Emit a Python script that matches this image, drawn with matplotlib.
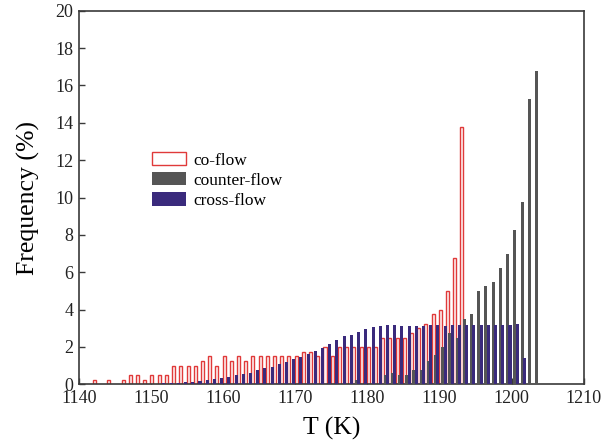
import matplotlib
matplotlib.use("Agg")
import matplotlib.pyplot as plt
import numpy as np

# ---- data ----
co_T = [1142, 1144, 1146, 1147, 1148, 1149, 1150, 1151, 1152, 1153, 1154, 1155, 1156,
        1157, 1158, 1159, 1160, 1161, 1162, 1163, 1164, 1165, 1166, 1167, 1168, 1169,
        1170, 1171, 1172, 1173, 1174, 1175, 1176, 1177, 1178, 1179, 1180, 1181, 1182,
        1183, 1184, 1185, 1186, 1187, 1188, 1189, 1190, 1191, 1192, 1193]
co_freq = [0.25, 0.25, 0.25, 0.5, 0.5, 0.25, 0.5, 0.5, 0.5, 1.0, 1.0, 1.0, 1.0,
           1.25, 1.5, 1.0, 1.5, 1.25, 1.5, 1.25, 1.5, 1.5, 1.5, 1.5, 1.5, 1.5,
           1.5, 1.75, 1.75, 1.5, 2.0, 1.5, 2.0, 2.0, 2.0, 2.0, 2.0, 2.0, 2.5,
           2.5, 2.5, 2.5, 2.75, 3.0, 3.25, 3.75, 4.0, 5.0, 6.75, 13.75]

counter_T = [1178, 1182, 1183, 1184, 1185, 1186, 1187, 1188, 1189, 1190, 1191, 1192,
             1193, 1194, 1195, 1196, 1197, 1198, 1199, 1200, 1201, 1202, 1203]
counter_freq = [0.25, 0.5, 0.62, 0.5, 0.5, 0.75, 0.75, 1.25, 1.55, 2.0, 2.75, 2.5,
                3.5, 3.75, 5.0, 5.25, 5.5, 6.25, 7.0, 8.25, 9.75, 15.25, 16.75]

cross_T = list(range(1150, 1202))
cross_freq = [0.03, 0.05, 0.06, 0.08, 0.1, 0.14, 0.2, 0.23, 0.29, 0.35, 0.41, 0.48,
              0.54, 0.62, 0.74, 0.86, 0.93, 1.07, 1.2, 1.38, 1.47, 1.63, 1.8, 1.95,
              2.15, 2.38, 2.6, 2.65, 2.8, 2.97, 3.07, 3.1, 3.15, 3.15, 3.1, 3.1, 3.1,
              3.1, 3.15, 3.2, 3.1, 3.19, 3.19, 3.19, 3.19, 3.19, 3.19, 3.19, 3.19,
              3.19, 3.22, 1.4]

labels = ["co-flow", "counter-flow", "cross-flow"]
x_ticks = [1140, 1150, 1160, 1170, 1180, 1190, 1200, 1210]
y_ticks = [0, 2, 4, 6, 8, 10, 12, 14, 16, 18, 20]

# ---- styling ----
plt.rcParams['font.family'] = ['Liberation Serif', 'DejaVu Serif']
red = '#e03a3a'
grey = '#555555'
blue = '#3a2a7c'
spine_col = '#3a3a3a'
w = 0.42

fig = plt.figure(figsize=(6.14, 4.46), dpi=100)
ax = fig.add_axes([0.1287, 0.1383, 0.8219, 0.8377])

ax.bar(np.array(co_T) + 0.12, co_freq, width=w, facecolor='#fff4f4', edgecolor=red,
       linewidth=1.0, label=labels[0], zorder=2)
ax.bar(np.array(counter_T) + 0.45, counter_freq, width=w, color=grey,
       linewidth=0, label=labels[1], zorder=3)
ax.bar(np.array(cross_T) + 0.78, cross_freq, width=w, color=blue,
       linewidth=0, label=labels[2], zorder=3)

ax.set_xlim(1140, 1210)
ax.set_ylim(0, 20)
ax.set_xticks(x_ticks)
ax.set_yticks(y_ticks)
ax.tick_params(direction='in', length=4, width=1.0, color=spine_col,
               labelsize=13, labelcolor='#222222', pad=4)
for s in ax.spines.values():
    s.set_color(spine_col)
    s.set_linewidth(1.2)

ax.set_xlabel("T (K)", fontsize=18.5, labelpad=7)
ax.set_ylabel("Frequency (%)", fontsize=18.5, labelpad=11)

leg = ax.legend(loc='upper left', bbox_to_anchor=(0.144, 0.622), frameon=False,
                fontsize=12.5, handlelength=2.0, handleheight=0.8,
                handletextpad=0.4, labelspacing=0.2, borderpad=0, borderaxespad=0)
leg.get_patches()[0].set_facecolor('white')

fig.savefig("out.png", dpi=100)
